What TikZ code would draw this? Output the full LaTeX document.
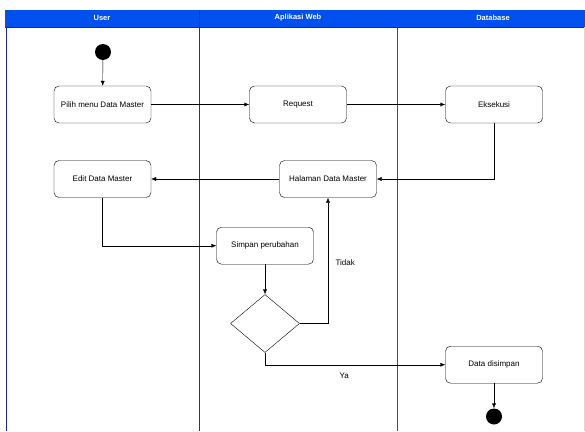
\documentclass[tikz,border=0pt]{standalone}
\usepackage{fontspec}
\setmainfont{Liberation Sans}
\usetikzlibrary{shapes.geometric,arrows.meta}
\definecolor{headblue}{RGB}{0,80,240}
\definecolor{laneline}{RGB}{45,55,95}

\begin{document}
\begin{tikzpicture}[x=1pt,y=-1pt,
    act/.style={draw, rounded corners=5pt, minimum width=97pt, minimum height=37pt, inner sep=1pt, font=\fontsize{8}{9}\selectfont},
    dot/.style={circle, fill=black, minimum size=16pt, inner sep=0pt},
    head/.style={text=white, font=\fontsize{7.5}{9}\selectfont\bfseries},
    lbl/.style={font=\fontsize{8}{9}\selectfont},
    >={Latex[length=5pt,width=4pt]}]

    \useasboundingbox (0,0) rectangle (585,431);

    % swimlanes
    \fill[headblue] (5,10) rectangle (585,27);
    \draw[headblue!60!black] (5,27) -- (585,27);
    \draw[laneline!70!blue] (6,27) -- (6,431);
    \draw[laneline] (199,10) -- (199,431);
    \draw[black!70] (397,10) -- (397,431);
    \draw[black!15] (584,27) -- (584,431);
    \node (hUser) [head] at (102,18) {User};
    \node (hWeb) [head] at (298,18) {Aplikasi Web};
    \node (hDb) [head] at (493,18) {Database};

    % activities
    \node (start) [dot] at (103,52) {};
    \node (pilih) [act] at (102.5,104.5) {Pilih menu Data Master};
    \node (request) [act] at (298,104.5) {Request};
    \node (eksekusi) [act] at (494,104.5) {Eksekusi};
    \node (edit) [act] at (102.5,179) {Edit Data Master};
    \node (halaman) [act] at (328,179) {Halaman Data Master};
    \node (simpan) [act] at (265,245.7) {Simpan perubahan};
    \node (cek) [draw, diamond, aspect=1.19, minimum width=69pt, minimum height=58pt, inner sep=0pt] at (265,323.5) {};
    \node (disimpan) [act] at (494,364.7) {Data disimpan};
    \node (stop) [dot] at (494,416.5) {};

    \draw[->] (start) -- (pilih);
    \draw[->] (pilih) -- (request);
    \draw[->] (request) -- (eksekusi);
    \draw[->] (eksekusi) |- (halaman);
    \draw[->] (halaman) -- (edit);
    \draw[->] (edit) |- (simpan);
    \draw[->] (simpan) -- (cek);
    \draw[->] (cek.east) -| node[lbl, pos=0.74, anchor=west, xshift=4pt]{Tidak} (halaman.south);
    \draw[->] (cek.south) |- node[lbl, pos=0.72, anchor=north, yshift=-5pt]{Ya} (disimpan.west);
    \draw[->] (disimpan) -- (stop);

\end{tikzpicture}
\end{document}
